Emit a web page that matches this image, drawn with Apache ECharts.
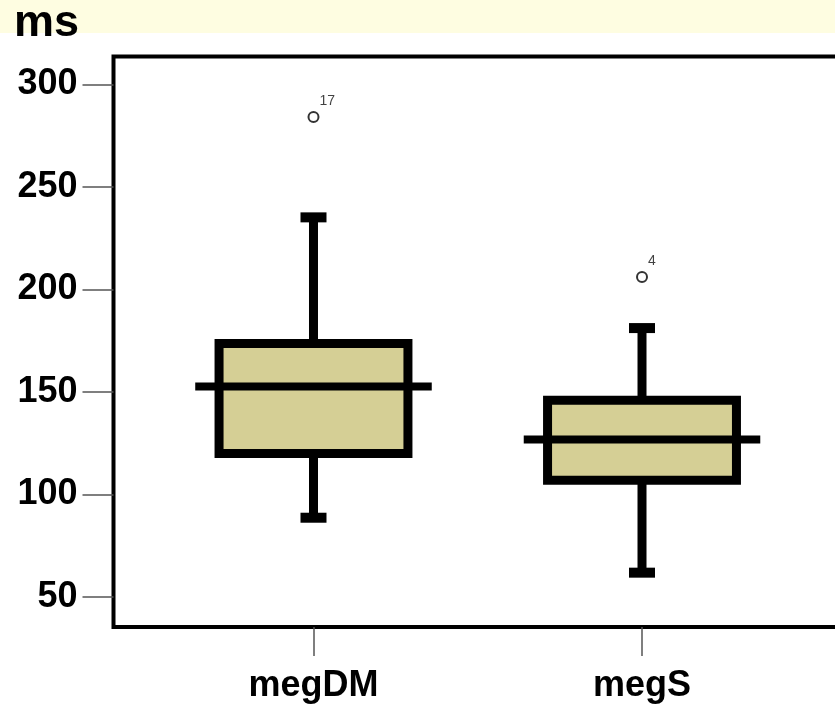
<!DOCTYPE html>
<html>
<head>
<meta charset="utf-8">
<script src="https://cdn.jsdelivr.net/npm/echarts@6/dist/echarts.min.js"></script>
<style>
  html, body { margin: 0; padding: 0; background: #ffffff; }
  #chart { width: 835px; height: 704px; }
</style>
</head>
<body>
<div id="chart"></div>
<script>
// Groups and five-number summaries (ms)
const categories = ['megDM', 'megS'];
const whiskerLow = [88.7, 61.9];
const quartile1 = [120, 107];
const medians = [152.7, 126.8];
const quartile3 = [173.7, 146];
const whiskerHigh = [235.2, 181.2];

// Outliers: group index, value, case number
const outlierGroup = [0, 1];
const outlierValue = [284.2, 206.1];
const outlierCase = ['17', '4'];

const yTicks = [50, 100, 150, 200, 250, 300];
const unitLabel = 'ms';

const FONT = '"Liberation Sans", Arial, sans-serif';

const boxData = categories.map((c, i) => [i, whiskerLow[i], quartile1[i], medians[i], quartile3[i], whiskerHigh[i]]);
const outlierData = outlierGroup.map((g, i) => ({ value: [g, outlierValue[i]], label: { formatter: outlierCase[i] } }));

function renderBox(params, api) {
  const x = api.value(0);
  const pLow = api.coord([x, api.value(1)]);
  const pQ1 = api.coord([x, api.value(2)]);
  const pMed = api.coord([x, api.value(3)]);
  const pQ3 = api.coord([x, api.value(4)]);
  const pHigh = api.coord([x, api.value(5)]);
  const unit = api.size([1, 0])[0];
  const boxW = unit * 0.575;
  const medW = unit * 0.72;
  const capW = 26;
  const cx = pMed[0];
  const stroke = { stroke: '#000', lineWidth: 9, lineCap: 'butt' };
  return {
    type: 'group',
    children: [
      { type: 'line', shape: { x1: cx, y1: pHigh[1], x2: cx, y2: pQ3[1] }, style: stroke },
      { type: 'line', shape: { x1: cx, y1: pQ1[1], x2: cx, y2: pLow[1] }, style: stroke },
      { type: 'rect', shape: { x: cx - boxW / 2, y: pQ3[1], width: boxW, height: pQ1[1] - pQ3[1] },
        style: { fill: '#D5CF95', stroke: '#000', lineWidth: 9 } },
      { type: 'line', shape: { x1: cx - medW / 2, y1: pMed[1], x2: cx + medW / 2, y2: pMed[1] },
        style: { stroke: '#000', lineWidth: 8 } },
      { type: 'line', shape: { x1: cx - capW / 2, y1: pHigh[1], x2: cx + capW / 2, y2: pHigh[1] },
        style: { stroke: '#000', lineWidth: 10 } },
      { type: 'line', shape: { x1: cx - capW / 2, y1: pLow[1], x2: cx + capW / 2, y2: pLow[1] },
        style: { stroke: '#000', lineWidth: 10 } }
    ]
  };
}

const chart = echarts.init(document.getElementById('chart'), null, { renderer: 'canvas' });
chart.setOption({
  backgroundColor: '#ffffff',
  animation: false,
  graphic: [
    { type: 'rect', left: 0, top: 0, shape: { width: 835, height: 33 }, style: { fill: '#FEFDE1' }, z: -10 },
    { type: 'text', left: 14, top: 1, style: { text: unitLabel, font: 'bold 45px ' + FONT, fill: '#000' }, z: 10 }
  ],
  grid: {
    left: 113.5, top: 56.5, right: -7, bottom: 77,
    outerBoundsMode: 'none', containLabel: false,
    show: true, borderColor: '#000', borderWidth: 4, backgroundColor: 'transparent'
  },
  xAxis: {
    type: 'value',
    min: -0.6088,
    max: 1.6088,
    splitLine: { show: false },
    axisLine: { show: false, onZero: false },
    axisTick: { show: true, customValues: [0, 1], length: 29, lineStyle: { color: '#555', width: 1.5 } },
    axisLabel: {
      customValues: [0, 1],
      formatter: v => categories[Math.round(v)],
      margin: 41,
      color: '#000',
      fontFamily: FONT,
      fontWeight: 'bold',
      fontSize: 36
    }
  },
  yAxis: {
    type: 'value',
    min: 35.4,
    max: 313.66,
    splitLine: { show: false },
    axisLine: { show: false, onZero: false },
    axisTick: { show: true, customValues: yTicks, length: 31, lineStyle: { color: '#555', width: 1.5 } },
    axisLabel: {
      customValues: yTicks,
      margin: 36,
      color: '#000',
      fontFamily: FONT,
      fontWeight: 'bold',
      fontSize: 36
    }
  },
  series: [
    {
      type: 'custom',
      renderItem: renderBox,
      data: boxData,
      encode: { x: 0, y: [1, 2, 3, 4, 5] },
      clip: false,
      z: 2
    },
    {
      type: 'scatter',
      data: outlierData,
      symbol: 'circle',
      symbolSize: 10,
      itemStyle: { color: '#fff', borderColor: '#000', borderWidth: 2 },
      label: {
        show: true,
        position: [12, -10],
        align: 'left',
        verticalAlign: 'middle',
        color: '#111',
        fontFamily: FONT,
        fontSize: 14
      },
      z: 3
    }
  ]
});
</script>
</body>
</html>
